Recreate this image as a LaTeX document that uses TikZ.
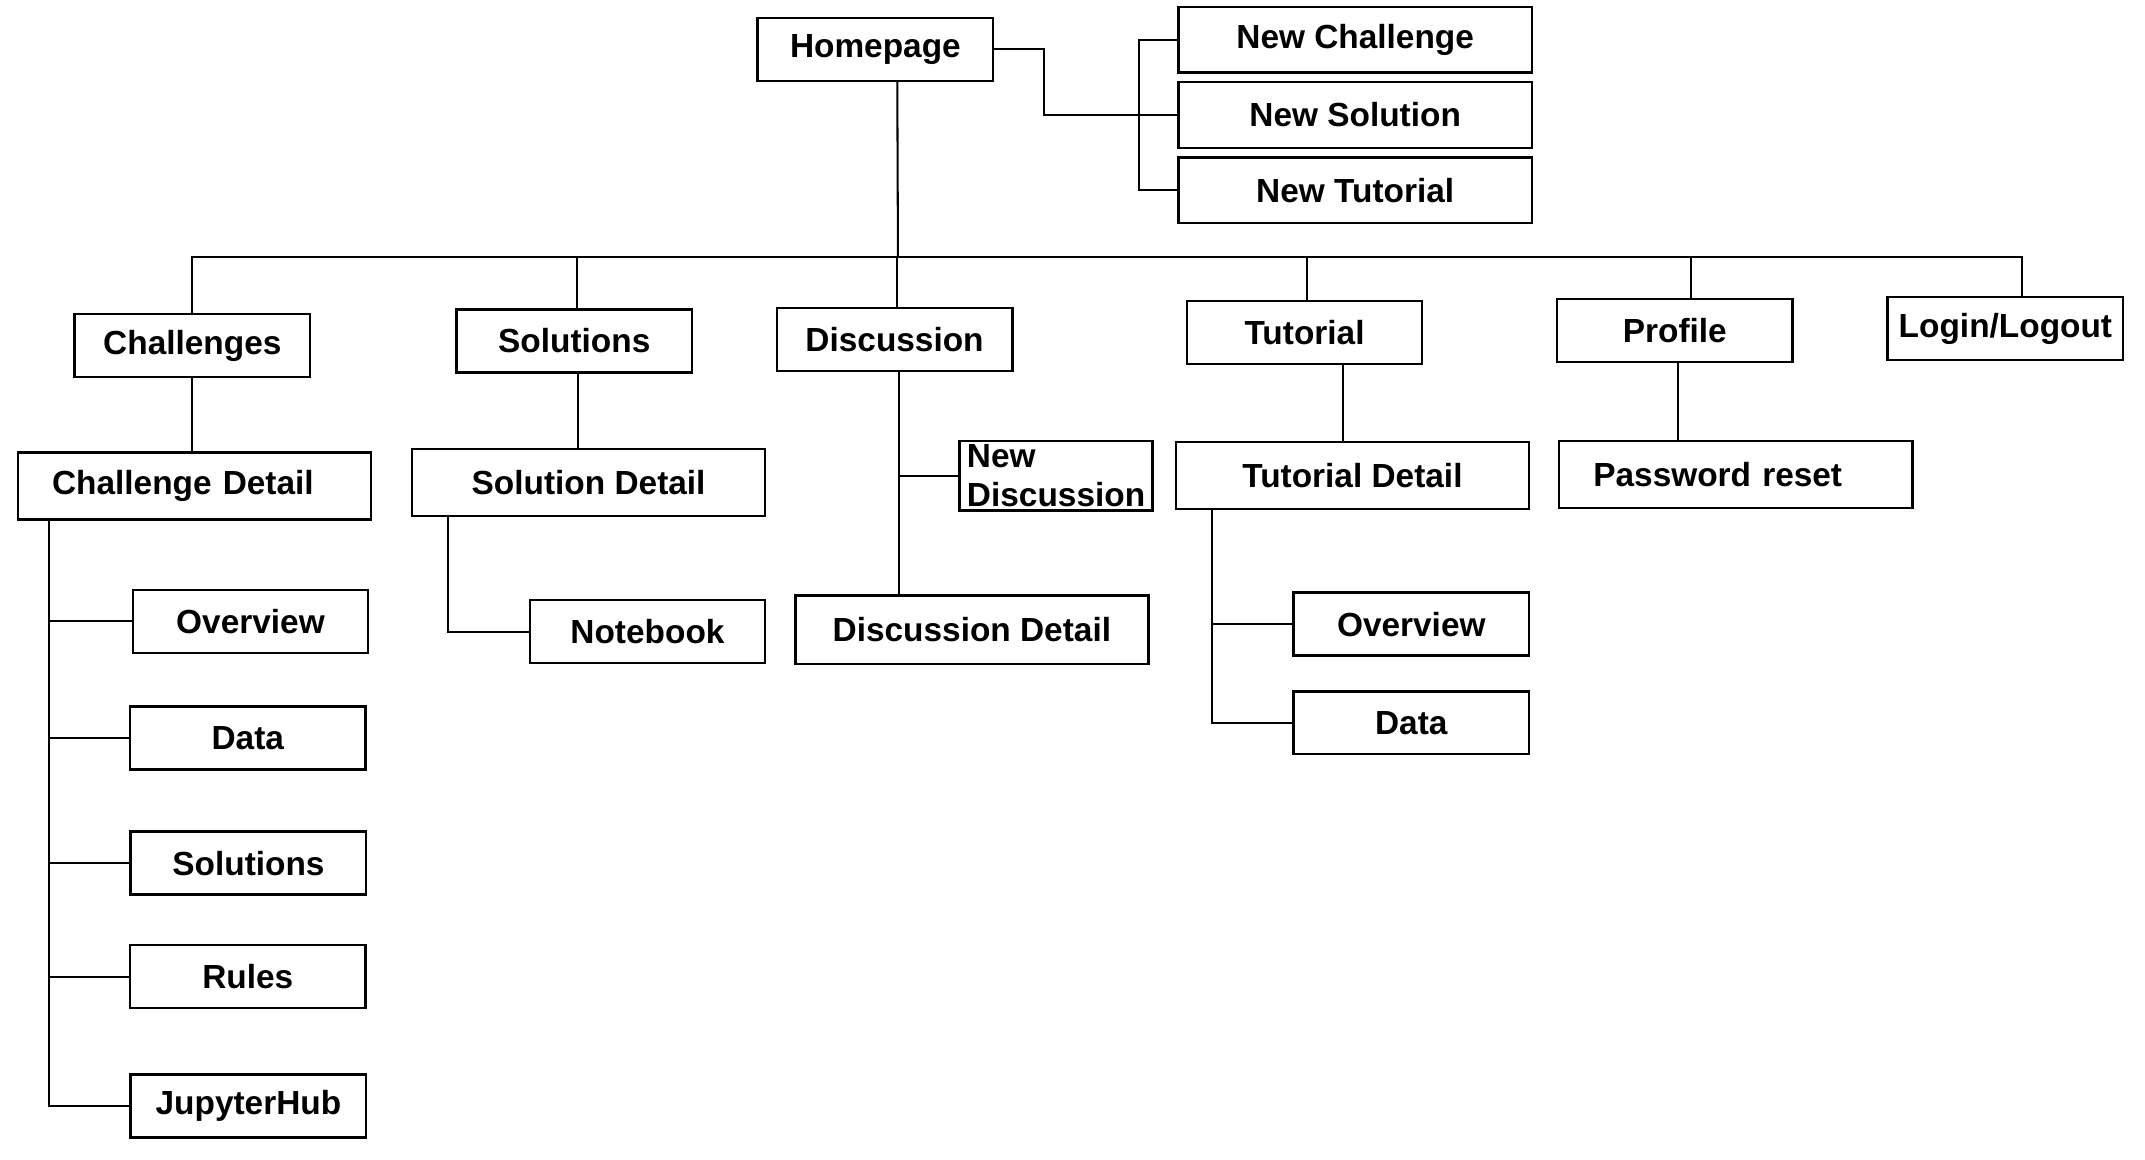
\documentclass[tikz,border=0pt]{standalone}
\usepackage{fontspec}
\setmainfont{Liberation Sans}
\usepackage{tikz}

\begin{document}
\begin{tikzpicture}[x=1pt,y=-1pt,
  box/.style={draw,line width=1.8pt,minimum width=172pt,minimum height=46pt,inner sep=4pt,
    font=\bfseries\fontsize{24.4}{28}\selectfont},
  wbox/.style={box,minimum width=258pt,minimum height=49pt},
  lbox/.style={wbox,text width=208pt,align=left,inner xsep=25pt},
  link/.style={line width=1.5pt}]
\useasboundingbox (0,0) rectangle (1567,847.4);
% top
\node [box] (home) at (639.5,36) {Homepage};
\node [wbox,minimum height=48pt] (nchal) at (990,29) {New Challenge};
\node [wbox,minimum height=48pt] (nsol) at (990,84) {New Solution};
\node [wbox,minimum height=48pt] (ntut) at (990,139) {New Tutorial};
% second row
\node [box] (chal) at (140.5,252.5) {Challenges};
\node [box] (sols) at (419.5,249) {Solutions};
\node [box] (disc) at (653.5,248) {Discussion};
\node [box] (tut) at (953,243) {Tutorial};
\node [box] (prof) at (1223.5,241.5) {Profile};
\node [box] (login) at (1465,240) {Login/Logout};
% details
\node [lbox] (cdet) at (142,355) {Challenge Detail};
\node [wbox] (sdet) at (430,352.5) {Solution Detail};
\node [box,minimum width=141pt,minimum height=49pt,align=left,inner sep=3pt] (ndisc) at (771.5,347.5) {New\\Discussion};
\node [wbox,minimum height=50pt] (ddet) at (710,460) {Discussion Detail};
\node [wbox] (tdet) at (988,347.5) {Tutorial Detail};
\node [lbox] (pwd) at (1268,346.5) {Password reset};
% leaves
\node [box] (ov1) at (183,454) {Overview};
\node [box] (data1) at (181,539) {Data};
\node [box] (sol1) at (181.5,630.5) {Solutions};
\node [box] (rules) at (181,713.5) {Rules};
\node [box] (jhub) at (181.5,808) {JupyterHub};
\node [box] (nb) at (473,461.5) {Notebook};
\node [box] (ov2) at (1031,456) {Overview};
\node [box] (data2) at (1031,528) {Data};

\coordinate (bus) at (656,188);
\coordinate (dl) at ([xshift=3pt]disc.south);
\draw [link] (home.east) -- ++(36,0) |- (nsol.west);
\draw [link] (nchal.west) -- ++(-28,0) |- (ntut.west);
\draw [link] ([xshift=16pt]home.south) -- (bus);
\draw [link] (chal.north) -- (chal.north |- bus) -- ([xshift=12pt]login.north |- bus) -- ([xshift=12pt]login.north);
\foreach \n in {sols,disc,tut}
  \draw [link] ([xshift=2pt]\n.north) -- ([xshift=2pt]\n.north |- bus);
\draw [link] ([xshift=12pt]prof.north) -- ([xshift=12pt]prof.north |- bus);
\draw [link] (chal.south) -- (chal.south |- cdet.north);
\draw [link] ([xshift=3pt]sols.south) -- ([xshift=3pt]sols.south |- sdet.north);
\draw [link] (dl) -- (dl |- ddet.north);
\draw [link] (ndisc.west) -- (ndisc.west -| dl);
\draw [link] ([xshift=28pt]tut.south) -- ([xshift=28pt]tut.south |- tdet.north);
\draw [link] ([xshift=2pt]prof.south) -- ([xshift=2pt]prof.south |- pwd.north);
\foreach \n in {ov1,data1,sol1,rules,jhub}
  \draw [link] ([xshift=24pt]cdet.south west) |- (\n.west);
\draw [link] ([xshift=27pt]sdet.south west) |- (nb.west);
\foreach \n in {ov2,data2}
  \draw [link] ([xshift=27pt]tdet.south west) |- (\n.west);
\end{tikzpicture}
\end{document}
